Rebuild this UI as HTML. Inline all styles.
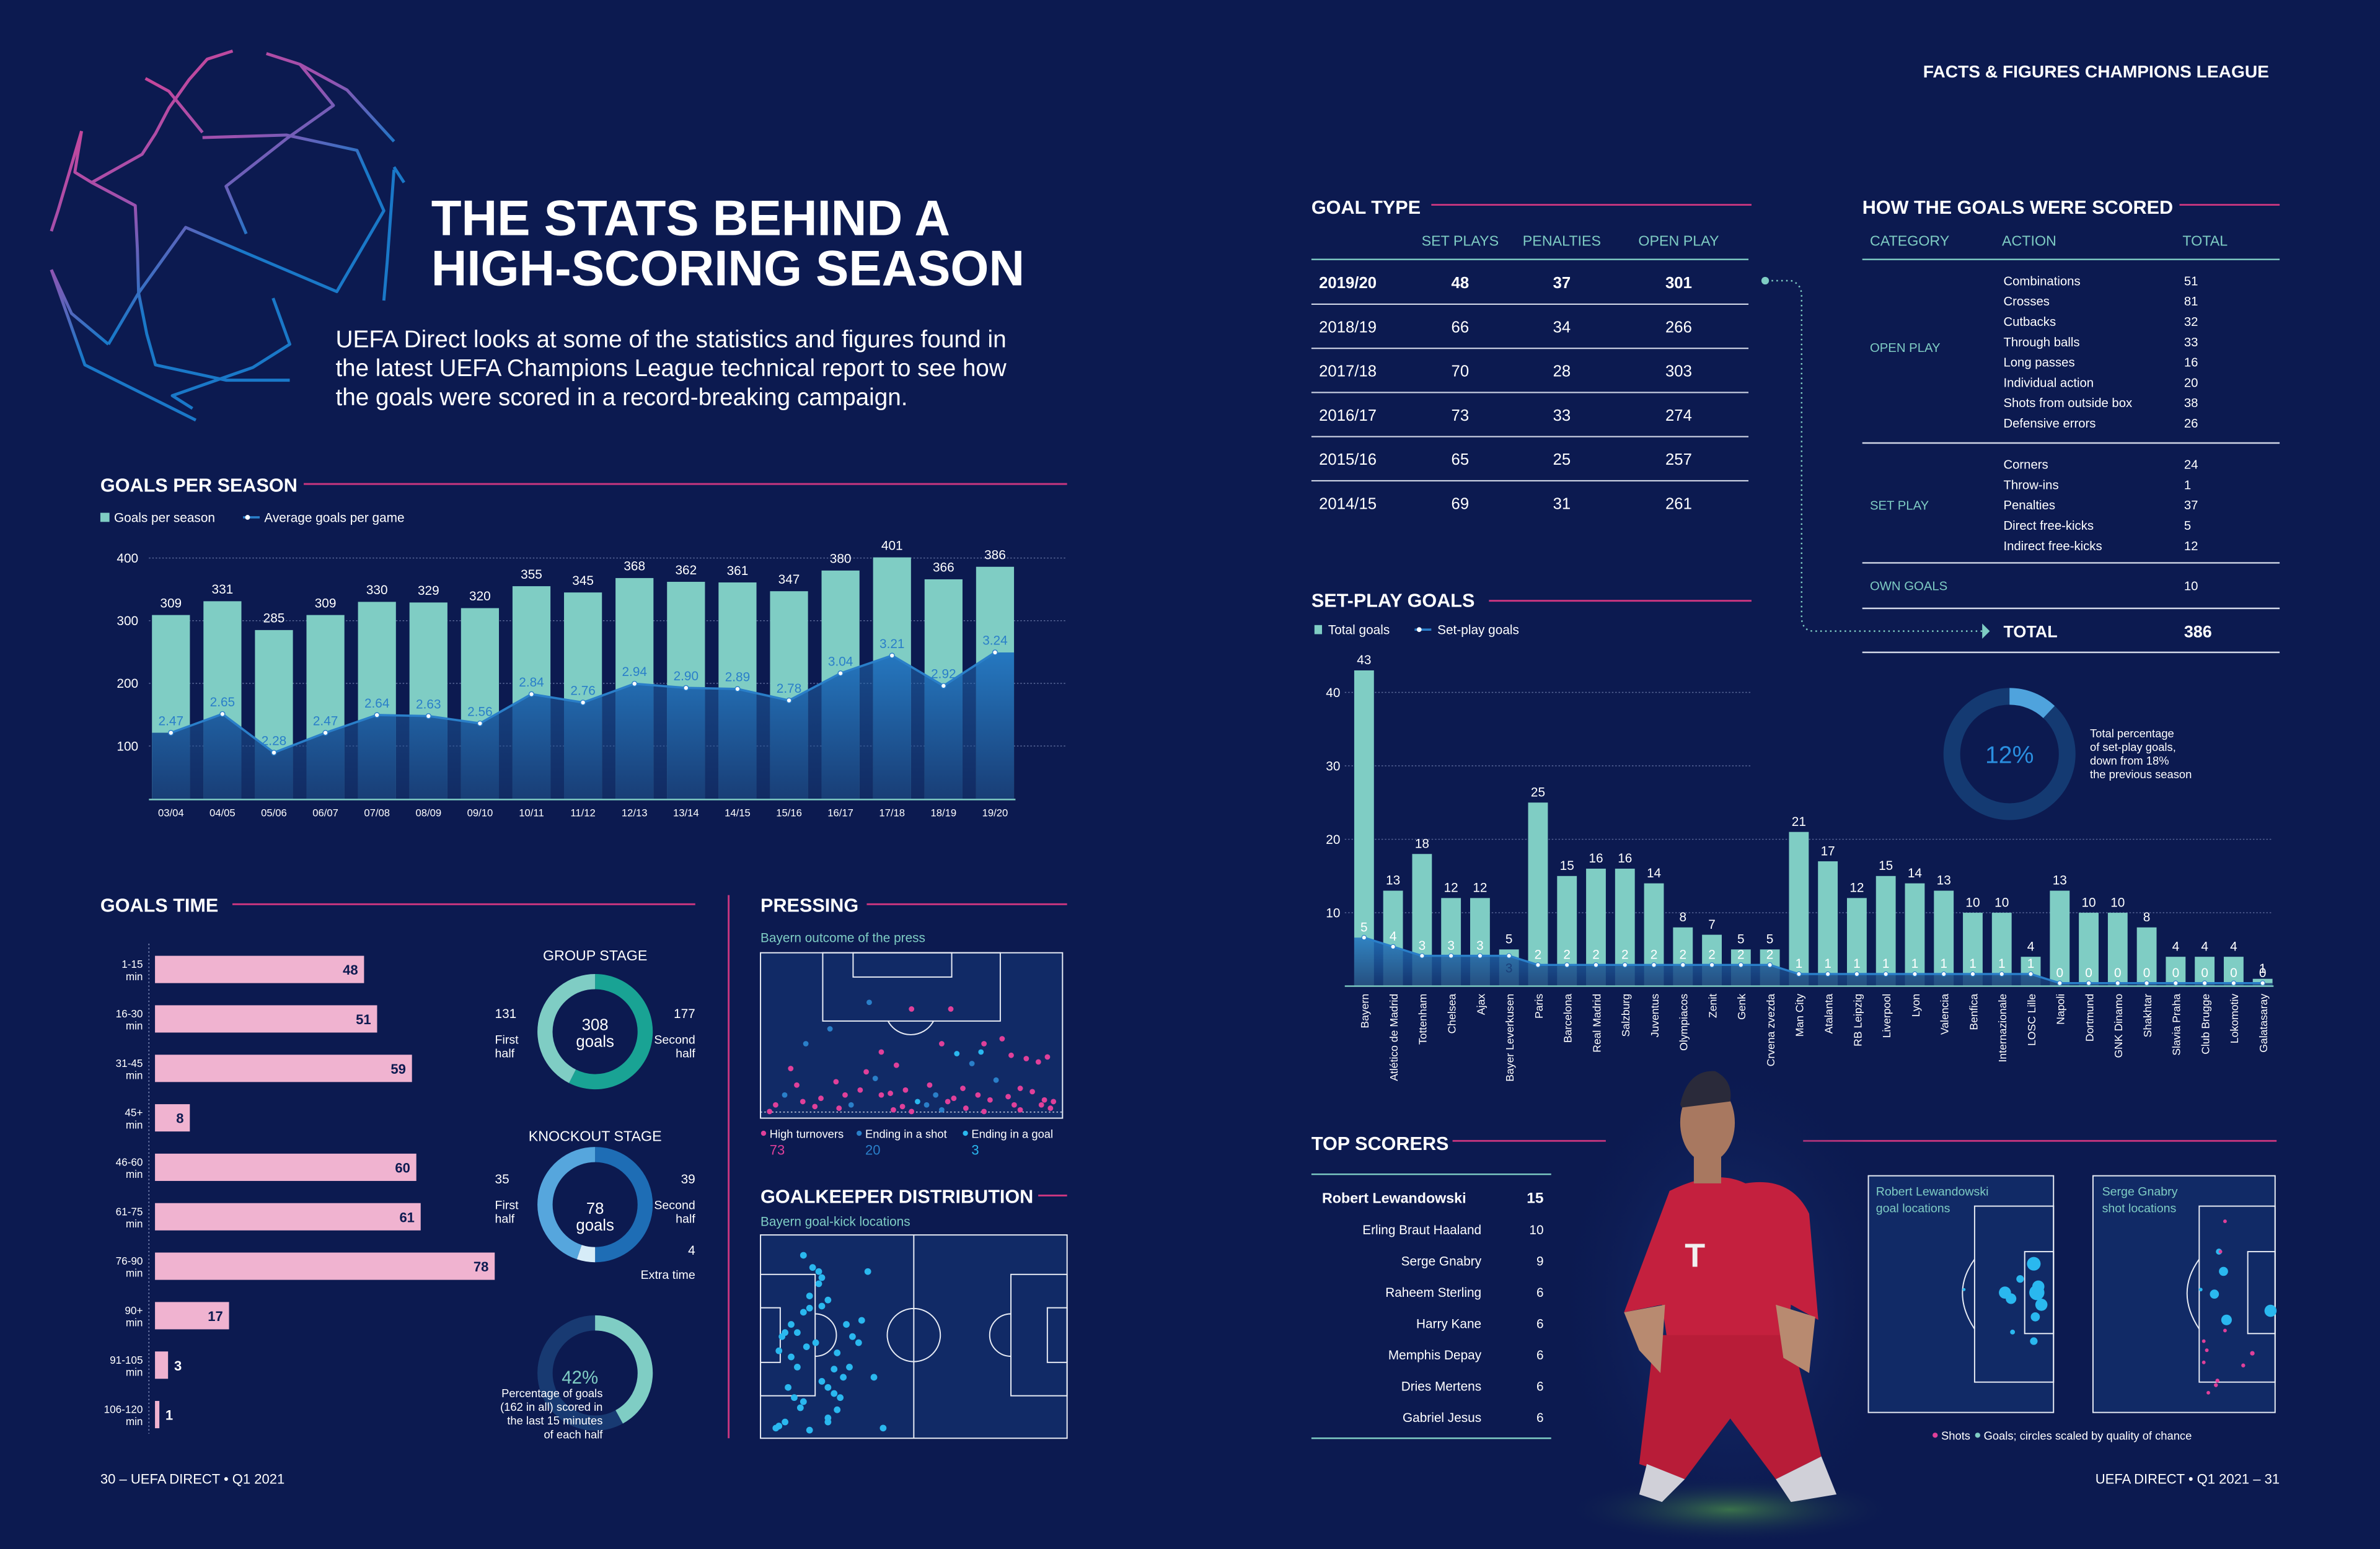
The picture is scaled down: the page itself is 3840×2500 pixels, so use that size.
<!DOCTYPE html>
<html><head><meta charset="utf-8"><style>
html,body{margin:0;padding:0;background:#0c1a50;}
svg{display:block;}
text{font-family:"Liberation Sans",sans-serif;}
.w{fill:#fff}.t{fill:#7fcdc4}.b{font-weight:bold}
</style></head><body>
<svg id="root" xmlns="http://www.w3.org/2000/svg" width="3840" height="2500" viewBox="0 0 1568 1021">
<defs>
<linearGradient id="logoG" gradientUnits="userSpaceOnUse" x1="50" y1="40" x2="190" y2="250"><stop offset="0" stop-color="#e0408f"/><stop offset="0.4" stop-color="#9a52b0"/><stop offset="0.65" stop-color="#1a78c8"/><stop offset="1" stop-color="#1a78c8"/></linearGradient>
<linearGradient id="areaG" x1="0" y1="0" x2="0" y2="1"><stop offset="0" stop-color="#2376c0" stop-opacity="0.95"/><stop offset="1" stop-color="#163a74" stop-opacity="0.95"/></linearGradient>
<radialGradient id="grass" cx="0.5" cy="0.5" r="0.5"><stop offset="0" stop-color="#3f7a4a" stop-opacity="0.9"/><stop offset="1" stop-color="#0c1a50" stop-opacity="0"/></radialGradient>
<radialGradient id="glow" cx="0.5" cy="0.5" r="0.5"><stop offset="0" stop-color="#1d3a80" stop-opacity="0.8"/><stop offset="1" stop-color="#0c1a50" stop-opacity="0"/></radialGradient>
<clipPath id="barsClip"></clipPath>
</defs>
<rect x="0" y="0" width="1568" height="1021" fill="#0c1a50"/>

<g id="logo" fill="none" stroke="url(#logoG)" stroke-width="2" stroke-linejoin="round"></g>

<text x="1495" y="51" text-anchor="end" class="w b" font-size="11.5">FACTS &amp; FIGURES CHAMPIONS LEAGUE</text>
<text x="284" y="155" class="w b" font-size="33" textLength="342" lengthAdjust="spacingAndGlyphs">THE STATS BEHIND A</text>
<text x="284" y="188" class="w b" font-size="33" textLength="391" lengthAdjust="spacingAndGlyphs">HIGH-SCORING SEASON</text>
<g class="w" font-size="16">
<text x="221" y="229" textLength="442" lengthAdjust="spacingAndGlyphs">UEFA Direct looks at some of the statistics and figures found in</text>
<text x="221" y="248" textLength="442" lengthAdjust="spacingAndGlyphs">the latest UEFA Champions League technical report to see how</text>
<text x="221" y="267" textLength="377" lengthAdjust="spacingAndGlyphs">the goals were scored in a record-breaking campaign.</text>
</g>

<g class="w b" font-size="12.5">
<text x="66" y="324">GOALS PER SEASON</text>
<text x="66" y="601">GOALS TIME</text>
<text x="501" y="601">PRESSING</text>
<text x="501" y="793">GOALKEEPER DISTRIBUTION</text>
<text x="864" y="141">GOAL TYPE</text>
<text x="1227" y="141">HOW THE GOALS WERE SCORED</text>
<text x="864" y="400">SET-PLAY GOALS</text>
<text x="864" y="758">TOP SCORERS</text>
</g>
<g stroke="#c8367f" stroke-width="1.2">
<line x1="200" y1="319" x2="703" y2="319"/>
<line x1="153" y1="596" x2="458" y2="596"/>
<line x1="571" y1="596" x2="703" y2="596"/>
<line x1="684" y1="788" x2="703" y2="788"/>
<line x1="943" y1="135" x2="1154" y2="135"/>
<line x1="1436" y1="135" x2="1502" y2="135"/>
<line x1="981" y1="396" x2="1154" y2="396"/>
<line x1="957" y1="752" x2="1058" y2="752"/>
<line x1="1188" y1="752" x2="1500" y2="752"/>
<line x1="480" y1="590" x2="480" y2="948"/>
</g>

<g font-size="8.5" class="w">
<rect x="66" y="338" width="6" height="6" fill="#7fcdc4"/><text x="75" y="344">Goals per season</text>
<line x1="160" y1="341" x2="171" y2="341" stroke="#2a7fc9" stroke-width="1.5"/><circle cx="163" cy="341" r="1.6" fill="#fff"/><text x="174" y="344">Average goals per game</text>
</g>
<g id="gps"></g>

<g id="gt"></g>
<g id="donuts"></g>

<text x="501" y="621" class="t" font-size="8.5">Bayern outcome of the press</text>
<g fill="#112a66" stroke="#e8ecf5" stroke-width="0.8">
<rect x="501" y="628" width="199" height="109"/>
<rect x="542" y="628" width="117" height="45" fill="none"/>
<rect x="562" y="628" width="65" height="16" fill="none"/>
<path d="M585 673 A17 17 0 0 0 615 673" fill="none"/>
<line x1="501" y1="733" x2="700" y2="733" stroke-dasharray="1 1.5" stroke-width="0.6"/>
</g>
<g id="press"></g>
<g font-size="7.5">
<circle cx="503" cy="747" r="1.7" fill="#e0409a"/><text x="507" y="750" class="w">High turnovers</text><text x="507" y="761" fill="#e0409a" font-size="9">73</text>
<circle cx="566" cy="747" r="1.7" fill="#2a7fc9"/><text x="570" y="750" class="w">Ending in a shot</text><text x="570" y="761" fill="#2a7fc9" font-size="9">20</text>
<circle cx="636" cy="747" r="1.7" fill="#2ab8ef"/><text x="640" y="750" class="w">Ending in a goal</text><text x="640" y="761" fill="#2ab8ef" font-size="9">3</text>
</g>

<text x="501" y="808" class="t" font-size="8.5">Bayern goal-kick locations</text>
<g fill="#112a66" stroke="#e8ecf5" stroke-width="0.8">
<rect x="501" y="814" width="202" height="134"/>
<line x1="602" y1="814" x2="602" y2="948"/>
<circle cx="602" cy="880" r="17.5" fill="none"/>
<rect x="501" y="840" width="36" height="80" fill="none"/>
<rect x="501" y="862" width="13" height="36" fill="none"/>
<rect x="666" y="840" width="37" height="80" fill="none"/>
<rect x="690" y="862" width="13" height="36" fill="none"/>
<path d="M537 866 A14 14 0 0 1 537 894" fill="none"/>
<path d="M666 866 A14 14 0 0 0 666 894" fill="none"/>
</g>
<g id="gk"></g>

<g font-size="10.5">
<g class="t" font-size="9.5" text-anchor="middle"><text x="962" y="162">SET PLAYS</text><text x="1029" y="162">PENALTIES</text><text x="1106" y="162">OPEN PLAY</text></g>
<line x1="864" y1="171" x2="1152" y2="171" stroke="#7fcdc4" stroke-width="1"/>
<g id="gtt"></g>
</g>
<g stroke="#7fcdc4" fill="none" stroke-width="1" stroke-dasharray="1 2.2">
<path d="M1164 185 L1180 185 Q1187 187 1187 195 L1187 408 Q1188 416 1195 416 L1306 416"/>
</g>
<circle cx="1163" cy="185" r="2.5" fill="#7fcdc4"/>
<path d="M1306 411 L1311 416 L1306 421 Z" fill="#7fcdc4"/>

<g font-size="8.3">
<g class="t" font-size="9.5"><text x="1232" y="162">CATEGORY</text><text x="1319" y="162">ACTION</text><text x="1438" y="162">TOTAL</text></g>
<line x1="1227" y1="171" x2="1502" y2="171" stroke="#7fcdc4"/>
<g id="hgt"></g>
<text x="1232" y="232" class="t">OPEN PLAY</text>
<line x1="1227" y1="292" x2="1502" y2="292" stroke="#d0d6e6"/>
<text x="1232" y="336" class="t">SET PLAY</text>
<line x1="1227" y1="371" x2="1502" y2="371" stroke="#d0d6e6"/>
<text x="1232" y="389" class="t">OWN GOALS</text><text x="1439" y="389" class="w">10</text>
<line x1="1227" y1="401" x2="1502" y2="401" stroke="#d0d6e6"/>
<text x="1320" y="420" class="w b" font-size="11">TOTAL</text><text x="1439" y="420" class="w b" font-size="11">386</text>
<line x1="1227" y1="430" x2="1502" y2="430" stroke="#d0d6e6"/>
</g>

<g font-size="8.5" class="w">
<rect x="866" y="412" width="5" height="6" fill="#7fcdc4"/><text x="875" y="418">Total goals</text>
<line x1="932" y1="415" x2="943" y2="415" stroke="#2a7fc9" stroke-width="1.5"/><circle cx="935" cy="415" r="1.6" fill="#fff"/><text x="947" y="418">Set-play goals</text>
</g>
<g id="sp"></g>
<g>
<circle cx="1324" cy="497" r="38" fill="none" stroke="#143a72" stroke-width="11"/>
<path id="d12" fill="none" stroke="#4fa3dd" stroke-width="11"/>
<text x="1324" y="503" text-anchor="middle" fill="#2a8fe0" font-size="16">12%</text>
<g class="w" font-size="7.5"><text x="1377" y="486">Total percentage</text><text x="1377" y="495">of set-play goals,</text><text x="1377" y="504">down from 18%</text><text x="1377" y="513">the previous season</text></g>
</g>

<g>
<ellipse cx="1140" cy="860" rx="120" ry="170" fill="url(#glow)"/>
<ellipse cx="1140" cy="995" rx="110" ry="22" fill="url(#grass)"/>
<path d="M1100 785 Q1130 770 1150 780 Q1180 775 1192 800 L1198 870 L1180 860 L1178 880 Q1160 900 1130 895 L1098 880 L1095 860 L1070 865 Z" fill="#c4203e"/>
<path d="M1090 880 L1180 880 L1200 960 L1170 975 L1140 935 L1110 975 L1080 965 Z" fill="#b81c38"/>
<path d="M1070 865 L1097 860 L1094 905 L1080 890 Z" fill="#b88a70"/>
<path d="M1170 860 L1196 868 L1192 905 L1175 895 Z" fill="#b88a70"/>
<ellipse cx="1125" cy="740" rx="18" ry="26" fill="#a87860"/>
<path d="M1107 728 Q1112 705 1130 706 Q1142 712 1140 726 L1108 730 Z" fill="#2a2a3a"/>
<rect x="1116" y="760" width="18" height="20" fill="#a87860"/>
<path d="M1085 965 L1110 975 L1095 990 L1080 985 Z" fill="#d0d0d8"/>
<path d="M1170 975 L1200 960 L1210 985 L1180 990 Z" fill="#d0d0d8"/>
<text x="1110" y="835" fill="#f0f0f0" font-size="22" class="b">T</text>
</g>

<g font-size="8.5">
<line x1="864" y1="774" x2="1022" y2="774" stroke="#7fcdc4"/>
<line x1="864" y1="948" x2="1022" y2="948" stroke="#7fcdc4"/>
<g id="ts"></g>
</g>

<g>
<g fill="#112a66" stroke="#e8ecf5" stroke-width="0.8">
<rect x="1231" y="775" width="122" height="156"/>
<rect x="1301" y="795" width="52" height="116" fill="none"/>
<rect x="1334" y="825" width="19" height="54" fill="none"/>
<path d="M1301 830 Q1285 852 1301 876" fill="none"/>
<rect x="1379" y="775" width="120" height="156"/>
<rect x="1449" y="795" width="50" height="116" fill="none"/>
<rect x="1481" y="825" width="18" height="54" fill="none"/>
<path d="M1449 830 Q1433 852 1449 876" fill="none"/>
</g>
<g class="t" font-size="8"><text x="1236" y="788">Robert Lewandowski</text><text x="1236" y="799">goal locations</text><text x="1385" y="788">Serge Gnabry</text><text x="1385" y="799">shot locations</text></g>
<g id="shots"></g>
<g font-size="7.5" class="w"><circle cx="1275" cy="946" r="1.7" fill="#e0409a"/><text x="1279" y="949">Shots</text><circle cx="1303" cy="946" r="1.7" fill="#7fcdc4"/><text x="1307" y="949">Goals; circles scaled by quality of chance</text></g>
</g>

<text x="66" y="978" class="w" font-size="9">30 – UEFA DIRECT • Q1 2021</text>
<text x="1502" y="978" class="w" font-size="9" text-anchor="end">UEFA DIRECT • Q1 2021 – 31</text>

<script>
// ---------- data ----------
const seasons = ["03/04","04/05","05/06","06/07","07/08","08/09","09/10","10/11","11/12","12/13","13/14","14/15","15/16","16/17","17/18","18/19","19/20"];
const seasonGoals = [309,331,285,309,330,329,320,355,345,368,362,361,347,380,401,366,386];
const seasonAvg = [2.47,2.65,2.28,2.47,2.64,2.63,2.56,2.84,2.76,2.94,2.90,2.89,2.78,3.04,3.21,2.92,3.24];
const seasonTicks = [100,200,300,400];

const timeBands = ["1-15","16-30","31-45","45+","46-60","61-75","76-90","90+","91-105","106-120"];
const timeGoals = [48,51,59,8,60,61,78,17,3,1];

const spTeams = ["Bayern","Atlético de Madrid","Tottenham","Chelsea","Ajax","Bayer Leverkusen","Paris","Barcelona","Real Madrid","Salzburg","Juventus","Olympiacos","Zenit","Genk","Crvena zvezda","Man City","Atalanta","RB Leipzig","Liverpool","Lyon","Valencia","Benfica","Internazionale","LOSC Lille","Napoli","Dortmund","GNK Dinamo","Shakhtar","Slavia Praha","Club Brugge","Lokomotiv","Galatasaray"];
const spTotal = [43,13,18,12,12,5,25,15,16,16,14,8,7,5,5,21,17,12,15,14,13,10,10,4,13,10,10,8,4,4,4,1];
const spSet = [5,4,3,3,3,3,2,2,2,2,2,2,2,2,2,1,1,1,1,1,1,1,1,1,0,0,0,0,0,0,0,0];
const spTicks = [10,20,30,40];

const gtSeasons = ["2019/20","2018/19","2017/18","2016/17","2015/16","2014/15"];
const gtSet = [48,66,70,73,65,69];
const gtPen = [37,34,28,33,25,31];
const gtOpen = [301,266,303,274,257,261];

const openActions = ["Combinations","Crosses","Cutbacks","Through balls","Long passes","Individual action","Shots from outside box","Defensive errors"];
const openTotals = [51,81,32,33,16,20,38,26];
const setActions = ["Corners","Throw-ins","Penalties","Direct free-kicks","Indirect free-kicks"];
const setTotals = [24,1,37,5,12];

const scorers = ["Robert Lewandowski","Erling Braut Haaland","Serge Gnabry","Raheem Sterling","Harry Kane","Memphis Depay","Dries Mertens","Gabriel Jesus"];
const scorerGoals = [15,10,9,6,6,6,6,6];

const groupHalves = [131,177];
const koHalves = [35,39,4];
const lateShare = [42];
const setPlayShare = [12];

const pressX = [36,50,63,23,15,40,60,73,74,80,65,35,45,70,83,88,92,95,10,12,25,33,38,40,43,48,52,56,58,62,67,72,78,82,86,90,94,97,5,8,14,20,28,30,47,55,64,76,84,93,18,26,44,50,60,68,74,86,96,3];
const pressY = [30,34,34,46,55,60,55,60,55,52,61,72,68,67,62,64,66,63,70,80,78,83,76,86,85,83,90,80,86,90,82,86,77,87,82,84,89,90,92,86,90,88,86,92,93,92,88,89,92,92,93,94,95,96,95,94,96,95,94,96];
const pressType = [1,0,0,1,1,0,0,2,0,0,2,0,0,1,0,0,0,0,0,0,0,0,1,0,0,0,2,0,1,0,0,0,1,0,0,0,0,0,0,1,0,0,0,1,0,1,0,0,0,0,0,0,0,0,1,0,0,0,0,0];
const gkX = [14,17,19,20,19,16,22,20,16,14,10,8,12,7,6,15,18,25,28,30,33,32,24,12,10,20,22,24,26,27,9,11,13,14,35,25,22,16,22,8,5,6,40,29,37];
const gkY = [10,16,18,21,24,30,32,35,36,38,44,48,48,50,57,55,53,58,44,50,42,53,66,65,60,72,75,78,80,70,75,80,85,82,18,86,90,96,92,92,95,94,95,65,70];

// ---------- helpers ----------
const NS = "http://www.w3.org/2000/svg";
function mk(parent, tag, attrs, txt) {
  const el = document.createElementNS(NS, tag);
  for (const k in attrs) el.setAttribute(k, attrs[k]);
  if (txt !== undefined) el.textContent = txt;
  parent.appendChild(el);
  return el;
}
function arc(cx, cy, r, a0, a1) {
  const p = a => [cx + r * Math.sin(a * Math.PI / 180), cy - r * Math.cos(a * Math.PI / 180)];
  const [x0, y0] = p(a0), [x1, y1] = p(a1);
  const large = Math.abs(a1 - a0) > 180 ? 1 : 0;
  const sweep = a1 > a0 ? 1 : 0;
  return `M${x0} ${y0} A${r} ${r} 0 ${large} ${sweep} ${x1} ${y1}`;
}

// ---------- logo (traced outline strokes) ----------
(function () {
  const strokes = [
    [[300,78],[262,110],[235,190],[205,300],[185,400],[165,480],[90,590],[155,680],[158,850],[160,1020],[172,1180],[185,1300],[290,1360],[385,1360]],
    [[170,185],[205,235],[255,395]],
    [[255,415],[380,405],[485,465],[525,700],[455,1015],[230,765],[160,1020],[115,1220]],
    [[350,88],[400,130],[450,290],[380,420],[290,605],[320,790]],
    [[75,390],[65,550],[90,590]],
    [[400,130],[470,230],[540,430]],
    [[540,530],[555,590]],
    [[540,540],[530,900],[525,1050]],
    [[360,1040],[385,1220],[330,1310],[210,1420],[240,1470]],
    [[75,390],[40,700],[30,780]],
    [[30,930],[60,1100],[115,1220]],
    [[30,930],[80,1300],[245,1515]]
  ];
  const g = document.getElementById("logo");
  const cx = v => (50 + v / 0.9224) / 2.449, cy = v => (50 + v / 2.4123) / 2.449;
  strokes.forEach(s => {
    const p = mk(g, "polyline", { points: s.map(q => cx(q[0]).toFixed(1) + "," + cy(q[1]).toFixed(1)).join(" ") });
    
    
  });
})();

// ---------- goals per season ----------
(function () {
  const g = document.getElementById("gps");
  const clip = document.getElementById("barsClip");
  const x0 = 100, step = 33.94, bw = 25, base = 527;
  const yG = v => 533 - 0.413 * v;
  const yA = v => 483 - (v - 2.47) * 68.8;
  seasonTicks.forEach(t => {
    const gl = mk(g, "line", { x1: 98, x2: 703, y1: yG(t), y2: yG(t), stroke: "#5b6a9a", "stroke-width": 0.6, "stroke-dasharray": "1 1.2" });
    
    
    const tl = mk(g, "text", { x: 91, y: yG(t) + 3, "text-anchor": "end", fill: "#fff", "font-size": 8.5 }, t);
    
    
  });
  seasonGoals.forEach((v, i) => {
    const x = x0 + i * step;
    const b = mk(g, "rect", { x: x, y: yG(v), width: bw, height: base - yG(v), fill: "#7fcdc4" });
    
    
    mk(clip, "rect", { x: x, y: 300, width: bw, height: base - 300 });
    const l = mk(g, "text", { x: x + bw / 2, y: yG(v) - 5, "text-anchor": "middle", fill: "#fff", "font-size": 8.5 }, v);
    
    
    const xl = mk(g, "text", { x: x + bw / 2, y: 538, "text-anchor": "middle", fill: "#fff", "font-size": 6.8 }, seasons[i]);
    
    
  });
  let pts = seasonAvg.map((v, i) => [x0 + i * step + bw / 2, yA(v)]);
  let poly = `${x0},${base} ${x0},${pts[0][1]} ` + pts.map(p => p.join(",")).join(" ") + ` ${x0 + 16 * step + bw},${pts[16][1]} ${x0 + 16 * step + bw},${base}`;
  const areaBg = mk(g, "polygon", { points: poly, fill: "url(#areaG)", opacity: 0.55 });
  
  
  const area = mk(g, "polygon", { points: poly, fill: "url(#areaG)", "clip-path": "url(#barsClip)" });
  
  
  const ln = mk(g, "polyline", { points: pts.map(p => p.join(",")).join(" "), fill: "none", stroke: "#2a7fc9", "stroke-width": 1.5 });
  
  
  pts.forEach((p, i) => {
    const c = mk(g, "circle", { cx: p[0], cy: p[1], r: 1.6, fill: "#fff", stroke: "#2a7fc9", "stroke-width": 0.6 });
    
    
    const t = mk(g, "text", { x: p[0], y: p[1] - 5, "text-anchor": "middle", fill: "#2a7fc9", "font-size": 8.5 }, seasonAvg[i].toFixed(2));
    
    
  });
  const ax = mk(g, "line", { x1: 98, x2: 669, y1: base, y2: base, stroke: "#7fcdc4", "stroke-width": 1 });
  
  
})();

// ---------- goals time ----------
(function () {
  const g = document.getElementById("gt");
  const xb = 102, sc = 2.87, y0 = 639, step = 32.6, bh = 18;
  timeGoals.forEach((v, i) => {
    const cy = y0 + i * step;
    const b = mk(g, "rect", { x: xb, y: cy - bh / 2, width: Math.max(v * sc, 2), height: bh, fill: "#f0b3d0" });
    
    
    const inside = v > 5;
    const t = mk(g, "text", { x: inside ? xb + v * sc - 4 : xb + v * sc + 4, y: cy + 3.5, "text-anchor": inside ? "end" : "start", fill: inside ? "#0c1a50" : "#fff", "font-size": 9, "font-weight": "bold" }, v);
    
    
    const l1 = mk(g, "text", { x: 94, y: cy - 1, "text-anchor": "end", fill: "#fff", "font-size": 7 }, timeBands[i]);
    
    
    const l2 = mk(g, "text", { x: 94, y: cy + 7, "text-anchor": "end", fill: "#fff", "font-size": 7 }, "min");
    
    
  });
  const ax = mk(g, "line", { x1: 98, x2: 98, y1: 622, y2: 945, stroke: "#8b96c0", "stroke-width": 0.6, "stroke-dasharray": "1 1.5" });
  
  
})();

// ---------- donuts ----------
(function () {
  const g = document.getElementById("donuts");
  function label(x, y, txt, anchor, size, fill) {
    const t = mk(g, "text", { x: x, y: y, "text-anchor": anchor || "start", fill: fill || "#fff", "font-size": size || 8 }, txt);
    
    
  }
  const gTot = groupHalves[0] + groupHalves[1];
  const a2 = groupHalves[1] / gTot * 360;
  let s = mk(g, "path", { d: arc(392, 680, 33, 0, a2), fill: "none", stroke: "#19a394", "stroke-width": 10 });
  
  
  s = mk(g, "path", { d: arc(392, 680, 33, a2, 360), fill: "none", stroke: "#7fcdc4", "stroke-width": 10 });
  
  
  label(392, 633, "GROUP STAGE", "middle", 9.5);
  label(392, 679, gTot, "middle", 10.5);
  label(392, 690, "goals", "middle", 10.5);
  label(326, 671, groupHalves[0], "start", 8.5);
  label(326, 688, "First"); label(326, 697, "half");
  label(458, 671, groupHalves[1], "end", 8.5);
  label(458, 688, "Second", "end"); label(458, 697, "half", "end");
  const kTot = koHalves[0] + koHalves[1] + koHalves[2];
  const b1 = koHalves[1] / kTot * 360, b2 = b1 + koHalves[2] / kTot * 360;
  s = mk(g, "path", { d: arc(392, 794, 33, 0, b1), fill: "none", stroke: "#1e6db5", "stroke-width": 10 });
  
  
  s = mk(g, "path", { d: arc(392, 794, 33, b1, b2), fill: "none", stroke: "#d6ecf8", "stroke-width": 10 });
  
  
  s = mk(g, "path", { d: arc(392, 794, 33, b2, 360), fill: "none", stroke: "#56a6dd", "stroke-width": 10 });
  
  
  label(392, 752, "KNOCKOUT STAGE", "middle", 9.5);
  label(392, 800, kTot, "middle", 10.5);
  label(392, 811, "goals", "middle", 10.5);
  label(326, 780, koHalves[0], "start", 8.5);
  label(326, 797, "First"); label(326, 806, "half");
  label(458, 780, koHalves[1], "end", 8.5);
  label(458, 797, "Second", "end"); label(458, 806, "half", "end");
  label(458, 827, koHalves[2], "end", 8.5);
  label(458, 843, "Extra time", "end");
  s = mk(g, "circle", { cx: 392, cy: 905, r: 33, fill: "none", stroke: "#183a72", "stroke-width": 10 });
  
  
  s = mk(g, "path", { d: arc(392, 905, 33, 0, lateShare[0] / 100 * 360), fill: "none", stroke: "#7fcdc4", "stroke-width": 10 });
  
  
  label(382, 912, lateShare[0] + "%", "middle", 12, "#7fcdc4");
  label(397, 921, "Percentage of goals", "end", 7.5);
  label(397, 930, "(162 in all) scored in", "end", 7.5);
  label(397, 939, "the last 15 minutes", "end", 7.5);
  label(397, 948, "of each half", "end", 7.5);
  document.getElementById("d12").setAttribute("d", arc(1324, 497, 38, 0, setPlayShare[0] / 100 * 360));
})();

// ---------- pressing & gk ----------
(function () {
  const g = document.getElementById("press");
  const px = v => 501 + v / 100 * 199, py = v => 628 + v / 100 * 109;
  const cols = ["#e0409a", "#2a7fc9", "#2ab8ef"];
  pressX.forEach((v, i) => {
    const c = mk(g, "circle", { cx: px(v), cy: py(pressY[i]), r: 1.8, fill: cols[pressType[i]] });
    
    
  });
  const k = document.getElementById("gk");
  const gx = v => 501 + v / 100 * 202, gy = v => 814 + v / 100 * 134;
  gkX.forEach((v, i) => {
    const c = mk(k, "circle", { cx: gx(v), cy: gy(gkY[i]), r: 2.2, fill: "#2ab8ef" });
    
    
  });
})();

// ---------- set-play chart ----------
(function () {
  const g = document.getElementById("sp");
  const x0 = 898.7, step = 19.1, bw = 13, base = 650;
  const yT = v => 650 - 4.84 * v;
  const yS = v => 648 - 6 * v;
  spTicks.forEach(t => {
    const gl = mk(g, "line", { x1: 886, x2: t >= 30 ? 1154 : 1497, y1: yT(t), y2: yT(t), stroke: "#5b6a9a", "stroke-width": 0.6, "stroke-dasharray": "1 1.2" });
    
    
    const tl = mk(g, "text", { x: 883, y: yT(t) + 3, "text-anchor": "end", fill: "#fff", "font-size": 8.5 }, t);
    
    
  });
  spTotal.forEach((v, i) => {
    const cx = x0 + i * step;
    const b = mk(g, "rect", { x: cx - bw / 2, y: yT(v), width: bw, height: base - yT(v), fill: "#7fcdc4" });
    
    
    const l = mk(g, "text", { x: cx, y: yT(v) - 4, "text-anchor": "middle", fill: "#fff", "font-size": 8.5 }, v);
    
    
    const tn = mk(g, "text", { x: 0, y: 0, transform: `translate(${cx + 3},655) rotate(-90)`, "text-anchor": "end", fill: "#fff", "font-size": 7.2 }, spTeams[i]);
    
    
  });
  const pts = spSet.map((v, i) => [x0 + i * step, yS(v)]);
  const poly = `${x0 - bw / 2},${base} ${x0 - bw / 2},${pts[0][1]} ` + pts.map(p => p.join(",")).join(" ") + ` ${pts[31][0] + bw / 2},${pts[31][1]} ${pts[31][0] + bw / 2},${base}`;
  const area = mk(g, "polygon", { points: poly, fill: "url(#areaG)", opacity: 0.9 });
  
  
  const ln = mk(g, "polyline", { points: pts.map(p => p.join(",")).join(" "), fill: "none", stroke: "#2a7fc9", "stroke-width": 1.4 });
  
  
  pts.forEach((p, i) => {
    const c = mk(g, "circle", { cx: p[0], cy: p[1], r: 1.5, fill: "#fff", stroke: "#2a7fc9", "stroke-width": 0.5 });
    
    
    const lab = mk(g, "text", { x: p[0], y: (i === 5 ? p[1] + 11 : p[1] - 4), "text-anchor": "middle", fill: i === 5 ? "#1a3f7a" : "#fff", "font-size": 8.5 }, spSet[i]);
    
    
  });
  const ax = mk(g, "line", { x1: 886, x2: 1498, y1: base, y2: base, stroke: "#7fcdc4", "stroke-width": 1 });
  
  
})();

// ---------- tables ----------
(function () {
  const g = document.getElementById("gtt");
  gtSeasons.forEach((s, i) => {
    const y = 190 + i * 29.1;
    const bold = i === 0 ? "bold" : "normal";
    [[869, s, "start"], [962, gtSet[i], "middle"], [1029, gtPen[i], "middle"], [1106, gtOpen[i], "middle"]].forEach(c => {
      const t = mk(g, "text", { x: c[0], y: y, "text-anchor": c[2], fill: "#fff", "font-weight": bold, "font-size": 10.5 }, c[1]);
      
      
    });
    if (i < 5) {
      const l = mk(g, "line", { x1: 864, x2: 1152, y1: y + 10.5, y2: y + 10.5, stroke: "#d0d6e6", "stroke-width": 0.9 });
      
      
    }
  });
  const h = document.getElementById("hgt");
  openActions.forEach((a, i) => {
    const y = 188 + i * 13.4;
    const t = mk(h, "text", { x: 1320, y: y, fill: "#fff" }, a);
    
    
    const v = mk(h, "text", { x: 1439, y: y, fill: "#fff" }, openTotals[i]);
    
    
  });
  setActions.forEach((a, i) => {
    const y = 309 + i * 13.4;
    const t = mk(h, "text", { x: 1320, y: y, fill: "#fff" }, a);
    
    
    const v = mk(h, "text", { x: 1439, y: y, fill: "#fff" }, setTotals[i]);
    
    
  });
  const ts = document.getElementById("ts");
  scorers.forEach((n, i) => {
    const y = 793 + i * 20.6;
    const first = i === 0;
    const t = mk(ts, "text", { x: first ? 871 : 976, y: y, "text-anchor": first ? "start" : "end", fill: "#fff", "font-weight": first ? "bold" : "normal", "font-size": first ? 9.5 : 8.5 }, n);
    
    
    const v = mk(ts, "text", { x: 1017, y: y, "text-anchor": "end", fill: "#fff", "font-weight": first ? "bold" : "normal", "font-size": first ? 10 : 8.5 }, scorerGoals[i]);
    
    
  });
})();

// ---------- shot maps ----------
const lewaX = [1325,1321,1331,1340,1343,1342,1345,1341,1326,1340,1294];
const lewaY = [856,852,843,833,848,852,860,868,878,884,850];
const lewaR = [3.5,4,2.5,4.5,4,5,4,3,1.6,2.5,1];
const gnabX = [1465,1466,1462,1459,1467,1496,1466,1454,1455,1450,1484,1478,1461,1460,1452,1452,1463];
const gnabY = [838,805,825,853,870,864,877,890,918,850,892,900,910,913,898,884,825];
const gnabR = [3,1.2,2,3,3.5,4,1.2,1.2,1.2,1.2,1.5,1.3,1.3,1.3,1.2,1.2,1.2];
const gnabGoal = [1,0,1,1,1,1,0,0,0,1,0,0,0,0,0,0,0];
(function () {
  const g = document.getElementById("shots");
  lewaX.forEach((x, i) => {
    const c = mk(g, "circle", { cx: x, cy: lewaY[i], r: lewaR[i], fill: "#2ab8ef" });
    
    
  });
  gnabX.forEach((x, i) => {
    const c = mk(g, "circle", { cx: x, cy: gnabY[i], r: gnabR[i], fill: gnabGoal[i] ? "#2ab8ef" : "#e0409a" });
    
    
  });
})();
</script>
</svg>
</body></html>
